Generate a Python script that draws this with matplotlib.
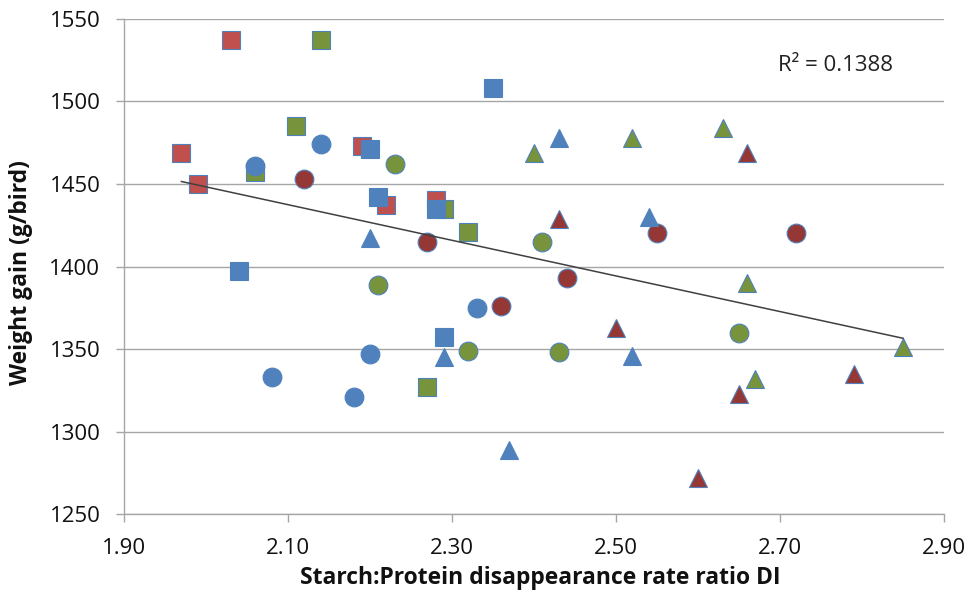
import matplotlib.pyplot as plt
import numpy as np

plt.rcParams['font.family'] = ['Open Sans', 'DejaVu Sans']

# (x, y) per series: DI ratio vs weight gain
sq_red_x = [2.03, 1.97, 1.99, 2.19, 2.22, 2.28]
sq_red_y = [1537, 1469, 1450, 1473, 1437, 1440]
sq_green_x = [2.14, 2.11, 2.06, 2.29, 2.32, 2.27]
sq_green_y = [1537, 1485, 1457, 1435, 1421, 1327]
sq_blue_x = [2.35, 2.20, 2.21, 2.28, 2.04, 2.29]
sq_blue_y = [1508, 1471, 1442, 1435, 1397, 1357]

ci_blue_x = [2.06, 2.14, 2.33, 2.20, 2.08, 2.18]
ci_blue_y = [1461, 1474, 1375, 1347, 1333, 1321]
ci_dred_x = [2.12, 2.27, 2.36, 2.44, 2.55, 2.72]
ci_dred_y = [1453, 1415, 1376, 1393, 1420, 1420]
ci_green_x = [2.23, 2.21, 2.32, 2.41, 2.43, 2.65]
ci_green_y = [1462, 1389, 1349, 1415, 1348, 1360]

tr_blue_x = [2.43, 2.20, 2.29, 2.37, 2.54, 2.52]
tr_blue_y = [1478, 1417, 1345, 1289, 1430, 1346]
tr_green_x = [2.40, 2.52, 2.63, 2.66, 2.67, 2.85]
tr_green_y = [1469, 1478, 1484, 1390, 1332, 1351]
tr_dred_x = [2.43, 2.66, 2.50, 2.65, 2.79, 2.60]
tr_dred_y = [1429, 1469, 1363, 1323, 1335, 1272]

trend_x = [1.97, 2.85]
trend_y = [1451.5, 1356.5]

blue = '#4F81BD'
red = '#C0504D'
green = '#77933C'
dred = '#953735'

fig = plt.figure(figsize=(9.71, 5.95), dpi=100)
ax = fig.add_axes([0.1277, 0.1361, 0.8445, 0.832])

series = [
    (sq_red_x, sq_red_y, 's', red, 12.5),
    (sq_green_x, sq_green_y, 's', green, 12.5),
    (sq_blue_x, sq_blue_y, 's', blue, 12.5),
    (ci_blue_x, ci_blue_y, 'o', blue, 13.5),
    (ci_dred_x, ci_dred_y, 'o', dred, 13.5),
    (ci_green_x, ci_green_y, 'o', green, 13.5),
    (tr_blue_x, tr_blue_y, '^', blue, 13),
    (tr_green_x, tr_green_y, '^', green, 13),
    (tr_dred_x, tr_dred_y, '^', dred, 13),
]
for xs, ys, m, c, ms in series:
    ax.plot(xs, ys, linestyle='none', marker=m, markersize=ms,
            markerfacecolor=c, markeredgecolor=blue, markeredgewidth=0.8,
            zorder=3)

ax.plot(trend_x, trend_y, color='#404040', linewidth=1.1, zorder=4)

ax.text(2.697, 1522, 'R² = 0.1388', fontsize=16, color='#222222', va='center')

ax.set_xlim(1.90, 2.90)
ax.set_ylim(1250, 1550)
ax.set_xticks(np.arange(1.90, 2.91, 0.20))
ax.set_xticklabels(['1.90', '2.10', '2.30', '2.50', '2.70', '2.90'])
ax.set_yticks(np.arange(1250, 1551, 50))
ax.grid(axis='y', color='#A6A6A6', linewidth=1.0, zorder=0)
ax.set_axisbelow(True)

for s in ['top', 'right']:
    ax.spines[s].set_visible(False)
for s in ['left', 'bottom']:
    ax.spines[s].set_color('#A6A6A6')
    ax.spines[s].set_linewidth(1.0)
ax.tick_params(axis='both', colors='#A6A6A6', labelcolor='#111111',
               labelsize=16, length=6, width=1.0)
ax.tick_params(axis='x', pad=11)
ax.tick_params(axis='y', pad=11)

ax.set_xlabel('Starch:Protein disappearance rate ratio DI', fontsize=16.5,
              fontweight='bold', color='#111111')
ax.set_ylabel('Weight gain (g/bird)', fontsize=16.5, fontweight='bold',
              color='#111111')
ax.xaxis.set_label_coords(0.508, -0.104)
ax.yaxis.set_label_coords(-0.111, 0.487)

fig.savefig('out.png', dpi=100)
